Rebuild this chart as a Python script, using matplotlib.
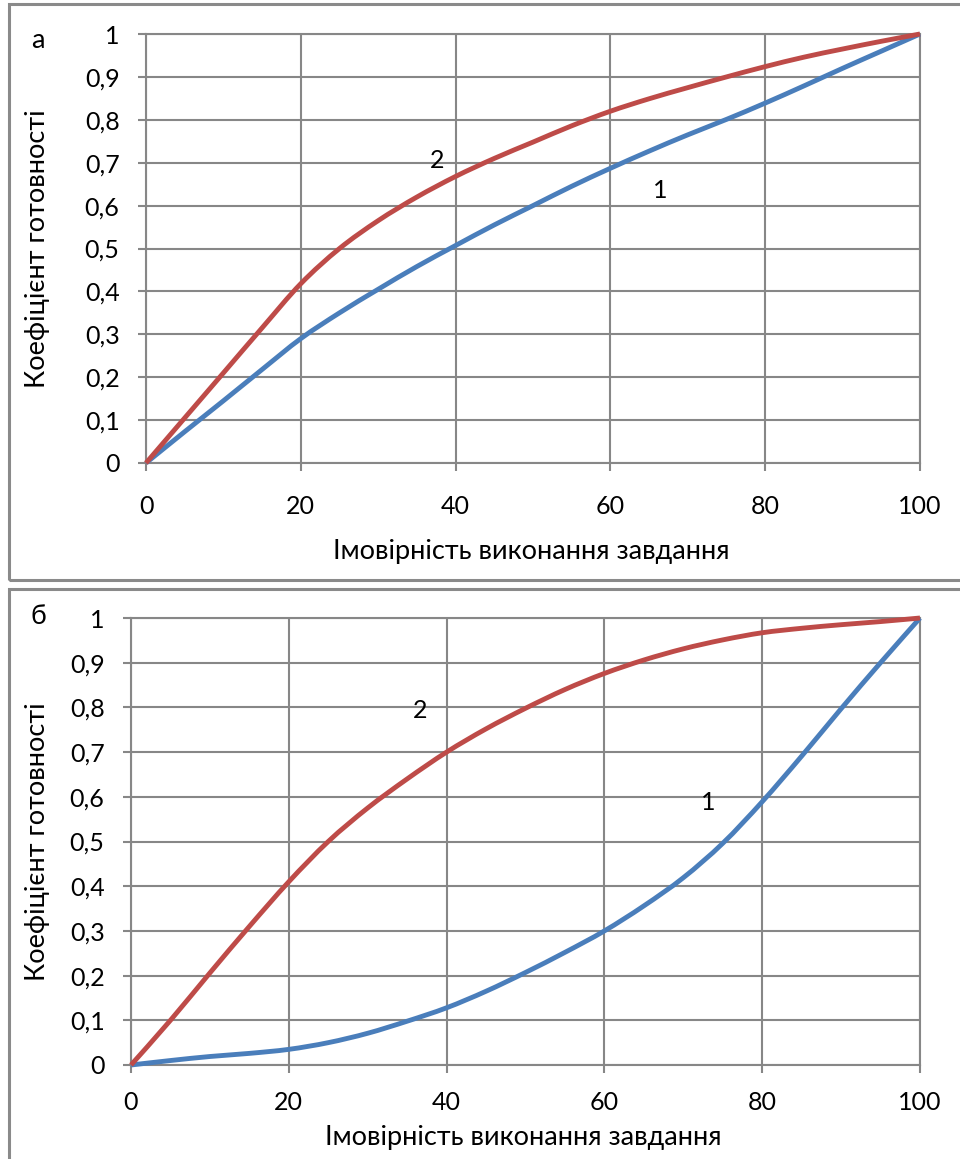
import matplotlib
matplotlib.use("Agg")
import matplotlib.pyplot as plt
from matplotlib.patches import Rectangle, PathPatch
from matplotlib.path import Path

plt.rcParams['font.family'] = ['Lato', 'DejaVu Sans']

# Probability of task completion, %
x = [0, 5, 10, 15, 20, 25, 30, 35, 40, 45, 50, 55, 60, 65, 70, 75, 80, 85, 90, 95, 100]

# Panel "а": readiness coefficient
a_curve1 = [0, 0.073, 0.145, 0.218, 0.29, 0.35, 0.405, 0.458, 0.507, 0.555, 0.60,
            0.645, 0.687, 0.727, 0.765, 0.801, 0.839, 0.879, 0.92, 0.96, 1.0]
a_curve2 = [0, 0.105, 0.21, 0.315, 0.418, 0.50, 0.565, 0.62, 0.668, 0.71, 0.748,
            0.786, 0.82, 0.849, 0.875, 0.90, 0.924, 0.946, 0.965, 0.983, 1.0]

# Panel "б": readiness coefficient
b_curve1 = [0, 0.01, 0.019, 0.026, 0.035, 0.05, 0.071, 0.098, 0.128, 0.165, 0.207,
            0.252, 0.30, 0.356, 0.419, 0.496, 0.589, 0.691, 0.797, 0.90, 1.0]
b_curve2 = [0, 0.10, 0.206, 0.31, 0.41, 0.50, 0.575, 0.64, 0.70, 0.752, 0.798,
            0.84, 0.876, 0.906, 0.931, 0.951, 0.967, 0.977, 0.985, 0.992, 1.0]

x_ticks = [0, 20, 40, 60, 80, 100]
y_ticks = [0, 0.1, 0.2, 0.3, 0.4, 0.5, 0.6, 0.7, 0.8, 0.9, 1]
y_tick_labels = ['0', '0,1', '0,2', '0,3', '0,4', '0,5', '0,6', '0,7', '0,8', '0,9', '1']

x_label = 'Імовірність виконання завдання'
y_label = 'Коефіцієнт готовності'

BLUE = '#4A7EBB'
RED = '#BE4B48'
GRID = '#878787'
FS_TICK = 18
FS_LAB = 19.5

W, H = 960, 1159
fig = plt.figure(figsize=(W / 100, H / 100), dpi=100)

# outer frames of the two panels
for (x0, y0, x1, y1) in [(9, 4, 975, 580), (9, 589, 975, 1175)]:
    fig.patches.append(Rectangle((x0 / W, 1 - y1 / H), (x1 - x0) / W, (y1 - y0) / H,
                                 transform=fig.transFigure, fill=False,
                                 edgecolor='#8a8a8a', linewidth=2.2))


def smooth_path(xs, ys):
    """Cubic Bezier path through the points (Catmull-Rom tangents)."""
    n = len(xs)
    verts = [(xs[0], ys[0])]
    codes = [Path.MOVETO]
    k = 1.0 / 6.0
    for i in range(n - 1):
        p0 = (xs[max(i - 1, 0)], ys[max(i - 1, 0)])
        p1 = (xs[i], ys[i])
        p2 = (xs[i + 1], ys[i + 1])
        p3 = (xs[min(i + 2, n - 1)], ys[min(i + 2, n - 1)])
        c1 = (p1[0] + (p2[0] - p0[0]) * k, p1[1] + (p2[1] - p0[1]) * k)
        c2 = (p2[0] - (p3[0] - p1[0]) * k, p2[1] - (p3[1] - p1[1]) * k)
        verts += [c1, c2, p2]
        codes += [Path.CURVE4] * 3
    return Path(verts, codes)


def make_panel(rect, c1, c2, letter, letter_pos, lab1, lab2, ylab_x, xlab_pos, tick_pad):
    l, t, r, b = rect
    ax = fig.add_axes([l / W, 1 - b / H, (r - l) / W, (b - t) / H])
    for ys, col, z in [(c1, BLUE, 3), (c2, RED, 4)]:
        ax.add_patch(PathPatch(smooth_path(x, ys), facecolor='none', edgecolor=col,
                               lw=3.5, capstyle='butt', zorder=z, clip_on=False))
    ax.set_xlim(0, 100)
    ax.set_ylim(0, 1)
    ax.set_xticks(x_ticks)
    ax.set_yticks(y_ticks)
    ax.set_yticklabels(y_tick_labels)
    ax.grid(True, color=GRID, lw=1.5)
    ax.set_axisbelow(True)
    for s in ax.spines.values():
        s.set_color(GRID)
        s.set_linewidth(1.5)
    ax.tick_params(axis='both', direction='out', length=6, width=1.5, color=GRID,
                   labelsize=FS_TICK, labelcolor='black')
    ax.tick_params(axis='y', pad=tick_pad[0])
    ax.tick_params(axis='x', pad=tick_pad[1])
    ax.text(lab1[0], lab1[1], '1', fontsize=FS_TICK, ha='center', va='center')
    ax.text(lab2[0], lab2[1], '2', fontsize=FS_TICK, ha='center', va='center')
    fig.text(letter_pos[0] / W, 1 - letter_pos[1] / H, letter, fontsize=FS_LAB,
             ha='center', va='center')
    fig.text(ylab_x / W, 1 - (t + b) / 2 / H, y_label, fontsize=FS_LAB, rotation=90,
             ha='center', va='center')
    fig.text(xlab_pos[0] / W, 1 - xlab_pos[1] / H, x_label, fontsize=FS_LAB,
             ha='center', va='center')
    return ax


make_panel((146, 34, 920, 463), a_curve1, a_curve2, 'а', (38, 40),
           (66.4, 0.636), (37.6, 0.705), 38, (531, 552), (13, 17))
make_panel((131, 618, 920, 1065), b_curve1, b_curve2, 'б', (38, 617),
           (73.1, 0.588), (36.6, 0.794), 38, (523, 1138), (13, 13))

fig.savefig('out.png', dpi=100)
